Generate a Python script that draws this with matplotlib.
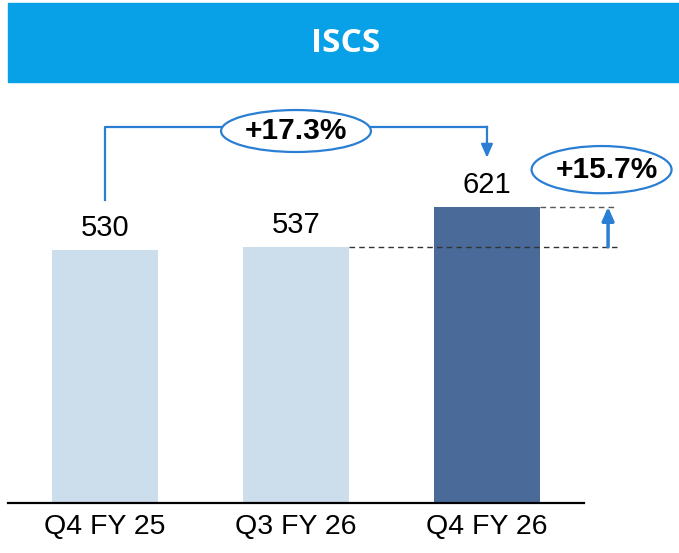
import matplotlib.pyplot as plt
from matplotlib.patches import Rectangle, Ellipse

categories = ["Q4 FY 25", "Q3 FY 26", "Q4 FY 26"]
values = [530, 537, 621]
bar_colors = ["#CCDDEC", "#CCDDEC", "#4A6A99"]
title = "ISCS"
yoy_label = "+17.3%"
qoq_label = "+15.7%"

W, H = 679, 553
fig = plt.figure(figsize=(W / 100, H / 100), dpi=100)

# header bar
fig.patches.append(Rectangle((8 / W, 1 - 82 / H), 1 - 8 / W, 79 / H,
                             transform=fig.transFigure, color="#08A0E6", zorder=0))
fig.text(346 / W, 1 - 44 / H, title, color="white", fontsize=24, fontweight="bold",
         family=["Open Sans", "DejaVu Sans"], ha="center", va="center")

ax = fig.add_axes([8 / W, 50 / H, 576 / W, 413 / H])
x = list(range(len(values)))
ax.bar(x, values, width=0.555, color=bar_colors)
ax.set_xlim(-0.508, 2.508)
ax.set_ylim(0, 866)
for s in ["top", "right", "left"]:
    ax.spines[s].set_visible(False)
ax.spines["bottom"].set_linewidth(1.6)
ax.set_yticks([])
ax.set_xticks(x)
ax.set_xticklabels(categories, fontsize=20.5, family=["Liberation Sans", "DejaVu Sans"])
ax.tick_params(axis="x", length=0, pad=8)

for xi, v in zip(x, values):
    ax.text(xi, v + 46, str(v), ha="center", va="center", fontsize=21,
            family=["Liberation Sans", "DejaVu Sans"])

blue = "#2A7FD4"
# year-over-year connector
top = 789
ax.plot([0, 0, 2], [values[0] + 106, top, top], color=blue, lw=1.6, clip_on=False)
ax.annotate("", xy=(2, values[2] + 103), xytext=(2, top),
            arrowprops=dict(arrowstyle="-|>,head_width=0.35,head_length=0.8",
                            color=blue, lw=1.6, shrinkA=0, shrinkB=0))
ax.add_patch(Ellipse((1, 780), 0.785, 88, facecolor="white", edgecolor=blue,
                     lw=1.6, clip_on=False, zorder=3))
ax.text(1, 780, yoy_label, ha="center", va="center", fontsize=21.5, fontweight="bold",
        family=["Liberation Sans", "DejaVu Sans"], zorder=4)

# quarter-over-quarter marker
ax.plot([1.277, 2.68], [values[1], values[1]], color="#333333", lw=1, ls=(0, (4, 3)), clip_on=False)
ax.plot([2.277, 2.68], [values[2], values[2]], color="#555555", lw=1, ls=(0, (4, 3)), clip_on=False)
ax.annotate("", xy=(2.634, values[2]), xytext=(2.634, values[1]),
            arrowprops=dict(arrowstyle="-|>,head_width=0.35,head_length=0.8",
                            color=blue, lw=2.5, shrinkA=0, shrinkB=0), annotation_clip=False)
ax.add_patch(Ellipse((2.6, 699), 0.733, 99, facecolor="white", edgecolor=blue,
                     lw=1.6, clip_on=False, zorder=3))
ax.text(2.63, 699, qoq_label, ha="center", va="center", fontsize=21.5, fontweight="bold",
        family=["Liberation Sans", "DejaVu Sans"], zorder=4)

fig.savefig("out.png", dpi=100)
